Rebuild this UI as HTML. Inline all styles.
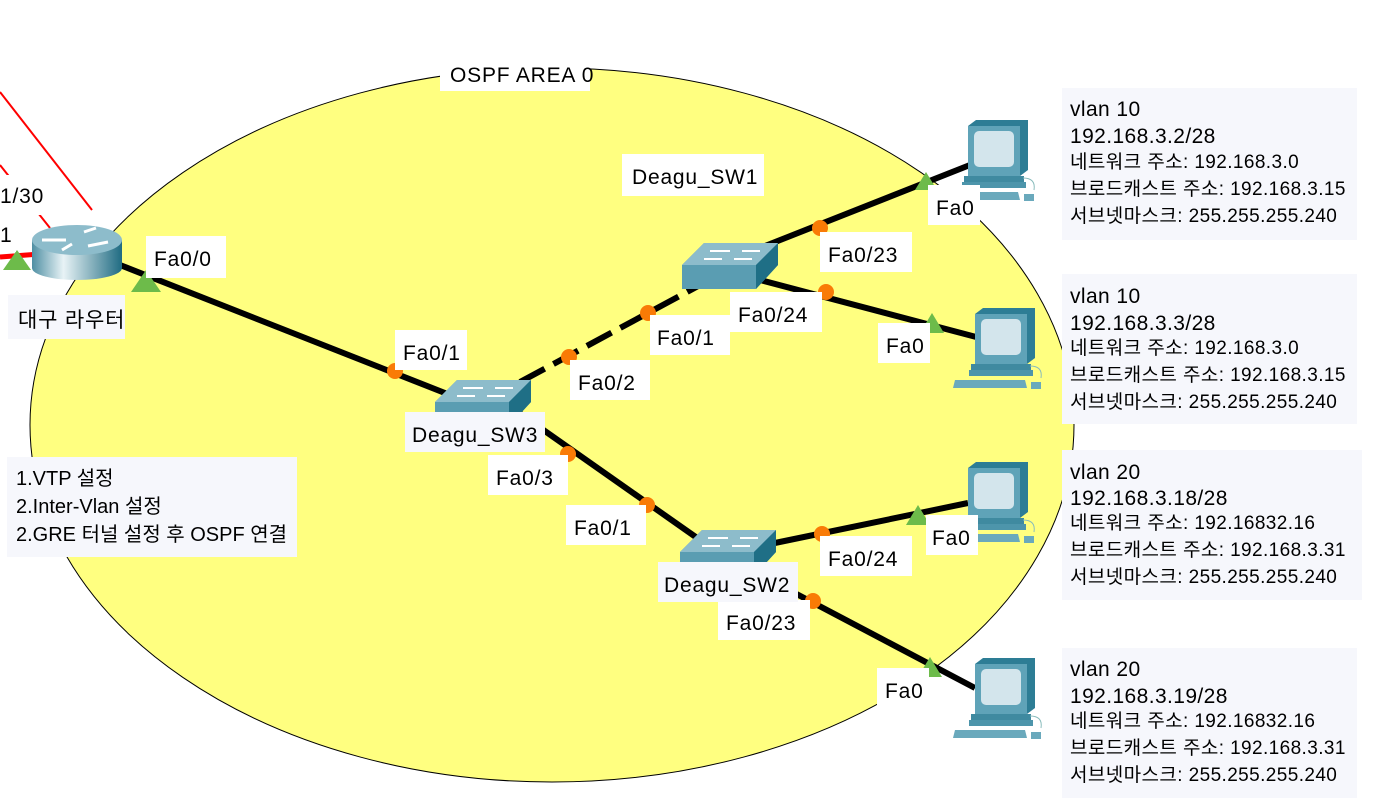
<!DOCTYPE html>
<html><head><meta charset="utf-8"><style>
html,body{margin:0;background:#fff;overflow:hidden;width:1400px;height:810px;}
svg{display:block;}
svg text{font-family:"Liberation Sans","Noto Sans CJK KR",sans-serif;fill:#000;}
</style></head><body>
<svg width="1400" height="810" viewBox="0 0 1400 810" xmlns="http://www.w3.org/2000/svg">
<defs>
<linearGradient id="rg" x1="0" x2="1"><stop offset="0" stop-color="#4f8fa3"/><stop offset="0.35" stop-color="#e8f3f6"/><stop offset="1" stop-color="#1f6b82"/></linearGradient>
<g id="pc">
<path d="M0 6 L8 0 L60 0 L60 50 L52 56 L0 56Z" fill="#2d7d95"/>
<rect x="0" y="6" width="52" height="50" fill="#5fa3b8"/>
<rect x="6" y="11" width="40" height="36" rx="5" fill="#d3e5ec"/>
<rect x="-4" y="56" width="60" height="6" fill="#3f8aa0"/>
<rect x="-6" y="62" width="64" height="6" fill="#4d95ab"/>
<path d="M-20 72 L50 72 L52 80 L-22 80Z" fill="#6aa9bc"/>
<rect x="56" y="74" width="10" height="7" fill="#6aa9bc"/>
<path d="M55 58 Q68 58 66 70" fill="none" stroke="#8bb" stroke-width="1"/>
</g>
<g id="sw">
<path d="M0 22 L22 0 L96 0 L96 22 L74 46 L0 46Z" fill="#5a9db2"/>
<path d="M0 22 L22 0 L96 0 L74 22Z" fill="#8dbccb"/>
<path d="M74 22 L96 0 L96 22 L74 46Z" fill="#1f6f86"/>
<path d="M28 8 L48 8 M60 8 L78 8 M22 16 L40 16 M52 16 L70 16" stroke="#fff" stroke-width="2"/>
</g>
</defs>
<ellipse cx="552" cy="425" rx="522" ry="357" fill="#ffff80" stroke="#000" stroke-width="1"/>
<line x1="0" y1="92" x2="92" y2="210" stroke="#f00" stroke-width="2"/>
<line x1="0" y1="165" x2="50" y2="228" stroke="#f00" stroke-width="2"/>
<line x1="0" y1="257" x2="40" y2="254" stroke="#f00" stroke-width="5"/>
<g stroke="#000" stroke-width="6">
<line x1="120" y1="265" x2="450" y2="395"/>
<line x1="520" y1="382" x2="700" y2="285" stroke-dasharray="28,10"/>
<line x1="760" y1="248" x2="975" y2="163"/>
<line x1="760" y1="280" x2="980" y2="338"/>
<line x1="515" y1="410" x2="700" y2="540"/>
<line x1="770" y1="544" x2="968" y2="503"/>
<line x1="770" y1="580" x2="975" y2="688"/>
</g>
<g transform="translate(32,222)">
<rect x="0" y="18" width="90" height="28" fill="url(#rg)"/>
<ellipse cx="45" cy="46" rx="45" ry="12" fill="url(#rg)"/>
<ellipse cx="45" cy="18" rx="45" ry="15" fill="#8dbccb"/>
<path d="M10 18 L34 18 M52 10 L64 6 M56 24 L76 20 M30 28 L40 22" stroke="#fff" stroke-width="3"/>
</g>
<use href="#sw" x="682" y="243"/>
<use href="#sw" x="435" y="380"/>
<use href="#sw" x="680" y="530"/>
<use href="#pc" x="968" y="120"/>
<use href="#pc" x="975" y="308"/>
<use href="#pc" x="968" y="462"/>
<use href="#pc" x="975" y="658"/>
<g fill="#6dbb4a">
<path d="M3 270 L17 250 L31 270Z"/><path d="M131 292 L146 270 L161 292Z"/>
<path d="M915 190 L926 172 L937 190Z"/><path d="M920 333 L932 313 L944 333Z"/>
<path d="M906 525 L918 505 L930 525Z"/><path d="M918 677 L930 657 L942 677Z"/>
</g>
<g fill="#f97b06">
<circle cx="395" cy="371" r="8"/><circle cx="569" cy="357" r="8"/><circle cx="648" cy="313" r="8"/>
<circle cx="820" cy="228" r="8"/><circle cx="826" cy="292" r="8"/><circle cx="568" cy="454" r="8"/>
<circle cx="647" cy="505" r="8"/><circle cx="822" cy="534" r="8"/><circle cx="813" cy="601" r="8"/>
</g>
<g fill="#fff">
<rect x="0" y="175" width="57" height="40"/><rect x="0" y="220" width="16" height="32"/>
<rect x="146" y="236" width="80" height="42"/>
<rect x="395" y="330" width="72" height="40"/><rect x="570" y="360" width="80" height="40"/>
<rect x="650" y="315" width="80" height="40"/><rect x="820" y="232" width="92" height="40"/>
<rect x="730" y="292" width="92" height="40"/><rect x="878" y="323" width="52" height="40"/>
<rect x="928" y="185" width="52" height="40"/><rect x="488" y="455" width="80" height="40"/>
<rect x="566" y="505" width="80" height="40"/><rect x="820" y="536" width="92" height="40"/>
<rect x="926" y="515" width="52" height="40"/><rect x="718" y="600" width="92" height="40"/>
<rect x="877" y="668" width="52" height="40"/>
<rect x="440" y="55" width="150" height="36"/><rect x="622" y="154" width="142" height="42"/>
</g>
<g fill="#f6f7fc">
<rect x="8" y="295" width="117" height="44"/>
<rect x="405" y="412" width="140" height="40"/>
<rect x="658" y="562" width="140" height="40"/>
<rect x="7" y="457" width="290" height="100"/>
<rect x="1062" y="88" width="295" height="152"/>
<rect x="1062" y="274" width="295" height="150"/>
<rect x="1062" y="450" width="300" height="150"/>
<rect x="1062" y="648" width="295" height="150"/>
</g>
<g font-size="21" letter-spacing="0.8">
<text x="0" y="203">1/30</text><text x="0" y="242">1</text>
<text x="154" y="266">Fa0/0</text>
<text x="18" y="327">대구 라우터</text>
<text x="403" y="360">Fa0/1</text><text x="578" y="390">Fa0/2</text>
<text x="657" y="345">Fa0/1</text><text x="828" y="262">Fa0/23</text>
<text x="738" y="322">Fa0/24</text><text x="886" y="353">Fa0</text>
<text x="936" y="215">Fa0</text><text x="412" y="442">Deagu_SW3</text>
<text x="496" y="485">Fa0/3</text><text x="574" y="535">Fa0/1</text>
<text x="828" y="566">Fa0/24</text><text x="932" y="545">Fa0</text>
<text x="664" y="592">Deagu_SW2</text><text x="726" y="630">Fa0/23</text>
<text x="885" y="698">Fa0</text>
<text x="450" y="82">OSPF AREA 0</text><text x="632" y="184">Deagu_SW1</text>
</g>
<g font-size="20">
<text x="16" y="485">1.VTP 설정</text>
<text x="16" y="513">2.Inter-Vlan 설정</text>
<text x="16" y="541">2.GRE 터널 설정 후 OSPF 연결</text>
</g>
<g letter-spacing="0.4">
<text x="1070" y="116" font-size="21">vlan 10</text><text x="1070" y="143" font-size="21">192.168.3.2/28</text>
<text x="1070" y="168" font-size="19">네트워크 주소: 192.168.3.0</text>
<text x="1070" y="195" font-size="19">브로드캐스트 주소: 192.168.3.15</text>
<text x="1070" y="222" font-size="19">서브넷마스크: 255.255.255.240</text>
<text x="1070" y="303" font-size="21">vlan 10</text><text x="1070" y="330" font-size="21">192.168.3.3/28</text>
<text x="1070" y="354" font-size="19">네트워크 주소: 192.168.3.0</text>
<text x="1070" y="381" font-size="19">브로드캐스트 주소: 192.168.3.15</text>
<text x="1070" y="408" font-size="19">서브넷마스크: 255.255.255.240</text>
<text x="1070" y="479" font-size="21">vlan 20</text><text x="1070" y="505" font-size="21">192.168.3.18/28</text>
<text x="1070" y="529" font-size="19">네트워크 주소: 192.16832.16</text>
<text x="1070" y="556" font-size="19">브로드캐스트 주소: 192.168.3.31</text>
<text x="1070" y="583" font-size="19">서브넷마스크: 255.255.255.240</text>
<text x="1070" y="676" font-size="21">vlan 20</text><text x="1070" y="703" font-size="21">192.168.3.19/28</text>
<text x="1070" y="727" font-size="19">네트워크 주소: 192.16832.16</text>
<text x="1070" y="754" font-size="19">브로드캐스트 주소: 192.168.3.31</text>
<text x="1070" y="781" font-size="19">서브넷마스크: 255.255.255.240</text>
</g>
</svg>
</body></html>
